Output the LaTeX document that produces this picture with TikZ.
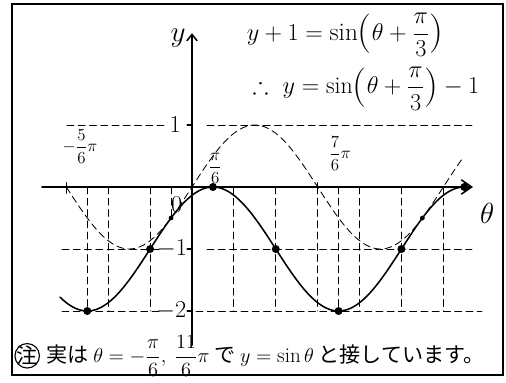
\documentclass[tikz,border=0pt]{standalone}
\usepackage{fontspec}
\usepackage{amsmath}
\usepackage{amssymb}
\newfontfamily\jpfont{Noto Sans CJK JP}
\usetikzlibrary{positioning, arrows.meta}
\newcommand{\eqlp}{\mathopen{\raisebox{-2.5pt}{\fontsize{28}{28}\selectfont(}}}
\newcommand{\eqrp}{\mathclose{\raisebox{-2.5pt}{\fontsize{28}{28}\selectfont)}}}

\begin{document}
\begin{tikzpicture}[
	x=1cm, y=1cm, line cap=round,
	>={Straight Barb[length=2.6mm, width=3.6mm]},
	grid line/.style={dash pattern=on 5pt off 3pt, line width=0.6pt},
	axis line/.style={line width=1.1pt},
	curve line/.style={line width=1.1pt},
	big dot/.style={circle, fill, inner sep=0pt, minimum size=2mm},
	small dot/.style={circle, fill, inner sep=0pt, minimum size=1.2mm},
	tick label/.style={font=\LARGE},
	frac label/.style={font=\large},
	eq text/.style={inner sep=0pt},
	note text/.style={font=\jpfont\fontsize{15}{18}\selectfont}
	]
	\useasboundingbox (-4.8,-4.875) rectangle (7.85,4.675);
	\draw[line width=1.3pt] (-4.5,-4.7) rectangle (7.775,4.575);
	
	\begin{scope}[yscale=1.55]
		% guide lines
		\draw[grid line] (-3.125,1) -- (-0.65,1) (0.375,1) -- (7.0,1);
		\draw[grid line] (-3.25,-1) -- (-0.8,-1) (0.375,-1) -- (7.0,-1);
		\draw[grid line] (-3.25,-2) -- (-0.8,-2) (0.1,-2) -- (7.25,-2);
		\draw[grid line] ({-5*pi/6},0) -- ({-5*pi/6},-2) ({-2*pi/3},0) -- ({-2*pi/3},-2)
			({-pi/3},0) -- ({-pi/3},-2) ({-pi/6},0) -- ({-pi/6},-0.5)
			({pi/3},0) -- ({pi/3},-2) ({2*pi/3},0) -- ({2*pi/3},-2)
			({pi},0) -- ({pi},-2) ({7*pi/6},0) -- ({7*pi/6},-2)
			({4*pi/3},0) -- ({4*pi/3},-2) ({5*pi/3},0) -- ({5*pi/3},-2)
			({2*pi},0) -- ({2*pi},-2);
		
		% y = sin(theta)
		\draw[grid line, domain=-pi:6.75, samples=120, smooth] plot (\x, {sin(\x r)});
		% y = sin(theta + pi/3) - 1
		\draw[curve line, domain=-3.3:6.807, samples=150, smooth] plot (\x, {sin(\x r + 60) - 1});
		
		% axes
		\draw[axis line, ->] (-3.75,0) -- (7.025,0);
		\draw[axis line, -{Straight Barb[length=1.6mm, width=2.6mm]}] (0,-2.55) -- (0,2.48);
		\draw[axis line] (-0.12,1) -- (0,1) (-0.12,-1) -- (0,-1) (-0.12,-2) -- (0,-2);
		\draw[line width=0.8pt] ({-pi},0.07) -- ({-pi},-0.1) ({pi},0.07) -- ({pi},-0.1);
		
		\node[big dot] (m_1) at ({-5*pi/6},-2) {};
		\node[big dot] (c_1) at ({-pi/3},-1) {};
		\node[big dot] (t_1) at ({pi/6},0) {};
		\node[big dot] (c_2) at ({2*pi/3},-1) {};
		\node[big dot] (m_2) at ({7*pi/6},-2) {};
		\node[big dot] (c_3) at ({5*pi/3},-1) {};
		\node[big dot] (t_2) at ({13*pi/6},0) {};
		\node[small dot] (s_1) at ({-pi/6},-0.5) {};
		\node[small dot] (s_2) at ({11*pi/6},-0.5) {};
		
		\node[tick label] (y_1) at (-0.42,1) {$1$};
		\node[tick label] (y_m1) at (-0.5,-1) {$-1$};
		\node[tick label] (y_m2) at (-0.52,-2) {$-2$};
		\node[tick label] (y_0) at (-0.38,-0.28) {$0$};
		\node[frac label] (x_a) at (-2.8,0.66) {$-\dfrac{5}{6}\pi$};
		\node[frac label] (x_b) at (0.58,0.3) {$\dfrac{\pi}{6}$};
		\node[frac label] (x_c) at (3.7,0.54) {$\dfrac{7}{6}\pi$};
		\node[font=\huge] (y_lab) at (-0.35,2.4) {$y$};
		\node[font=\huge] (th_lab) at (7.38,-0.42) {$\theta$};
	\end{scope}
	
	\node[eq text, font=\fontsize{18}{22}\selectfont] (eq_1) at (3.83,3.8) {$y+1=\sin\eqlp\theta+\dfrac{\pi}{3}\eqrp$};
	\node[eq text, font=\fontsize{17}{20}\selectfont] (eq_2) at (4.35,2.46) {$\therefore\ y=\sin\eqlp\theta+\dfrac{\pi}{3}\eqrp-1$};
	
	\node[note text, circle, draw, line width=0.8pt, inner sep=-1pt] (chu) at (-4.12,-4.22) {注};
	\node[note text, right=1pt of chu] (note) {実は $\theta=-\dfrac{\pi}{6},\ \dfrac{11}{6}\pi$ で $y=\sin\theta$ と接しています。};
\end{tikzpicture}
\end{document}
